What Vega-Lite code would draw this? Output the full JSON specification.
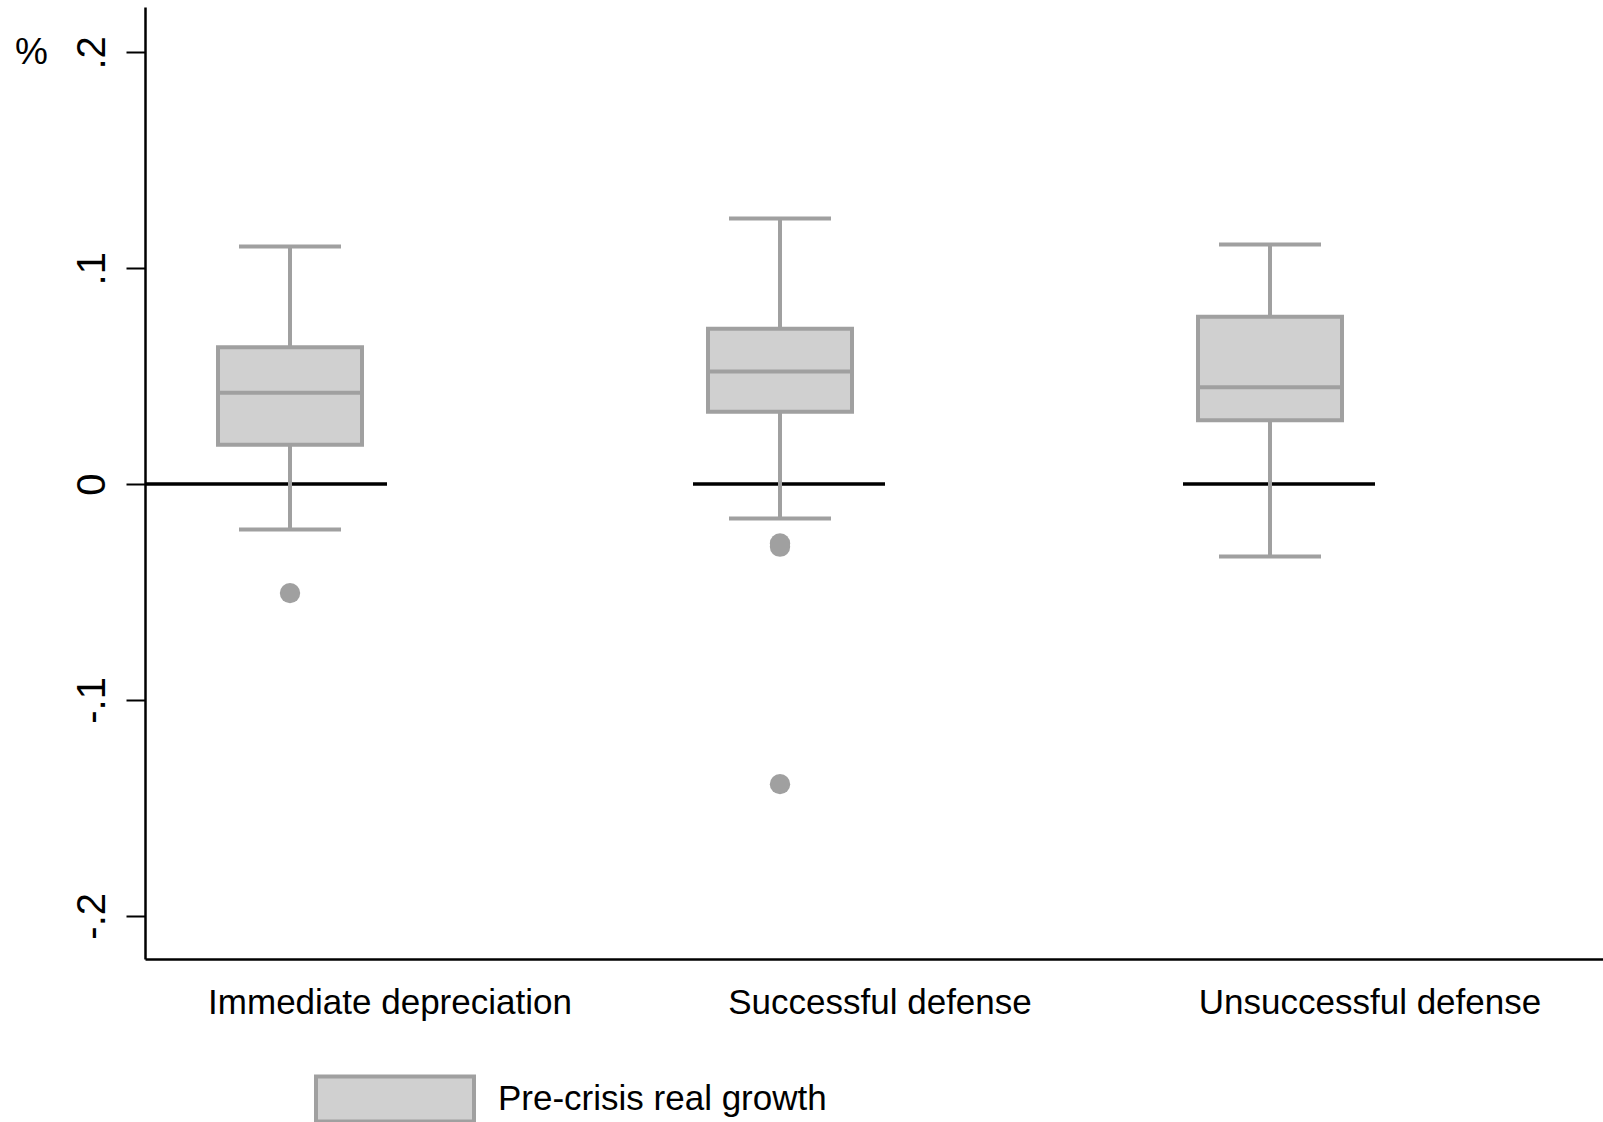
{
  "$schema": "https://vega.github.io/schema/vega-lite/v6.json",
  "width": 1470,
  "height": 952,
  "autosize": {"type": "none"},
  "padding": {"left": 145, "top": 7, "right": 0, "bottom": 163},
  "background": "white",
  "config": {"view": {"stroke": null}, "font": "Liberation Sans"},
  "datasets": {
    "stats": [
      {"cat": "Immediate depreciation", "lower": -0.021, "q1": 0.0182, "median": 0.0423, "q3": 0.0634, "upper": 0.110},
      {"cat": "Successful defense", "lower": -0.016, "q1": 0.0335, "median": 0.0522, "q3": 0.072, "upper": 0.123},
      {"cat": "Unsuccessful defense", "lower": -0.0336, "q1": 0.0296, "median": 0.0448, "q3": 0.0775, "upper": 0.111}
    ],
    "outliers": [
      {"cat": "Immediate depreciation", "value": -0.0505},
      {"cat": "Successful defense", "value": -0.0275},
      {"cat": "Successful defense", "value": -0.029},
      {"cat": "Successful defense", "value": -0.139}
    ]
  },
  "encoding": {
    "x": {
      "field": "cat", "type": "nominal", "sort": null,
      "scale": {"domain": ["Immediate depreciation", "Successful defense", "Unsuccessful defense"], "paddingInner": 0, "paddingOuter": 0},
      "axis": {"title": null, "labelAngle": 0, "ticks": false, "domainColor": "black", "domainWidth": 2.5, "labelFontSize": 35, "labelColor": "black", "labelPadding": 26, "labelLimit": 0, "labelFont": "Liberation Sans"}
    }
  },
  "layer": [
    {
      "data": {"name": "stats"},
      "mark": {"type": "tick", "color": "black", "thickness": 3.5, "opacity": 1, "xOffset": {"expr": "datum.cat === 'Immediate depreciation' ? -124 : -91"}},
      "encoding": {
        "y": {"datum": 0, "type": "quantitative",
          "scale": {"domain": [-0.22, 0.221], "nice": false, "zero": false},
          "axis": {"values": [-0.2, -0.1, 0, 0.1, 0.2], "labelExpr": "datum.value == 0 ? '0' : (datum.value < 0 ? '-' : '') + replace(format(abs(datum.value), '.1f'), '0.', '.')", "labelAngle": -90, "tickSize": 19, "tickWidth": 2, "tickColor": "black", "domainColor": "black", "domainWidth": 2.5, "labelFontSize": 40, "labelColor": "black", "labelPadding": 14, "labelFont": "Liberation Sans", "grid": false, "title": "%", "titleAngle": 0, "titleX": -114, "titleY": 45, "titleFontSize": 37, "titleFontWeight": "normal", "titleFont": "Liberation Sans", "titleColor": "black", "titleAlign": "center", "titleBaseline": "middle"}},
        "size": {"condition": {"test": "datum.cat === 'Immediate depreciation'", "value": 242}, "value": 192}
      }
    },
    {
      "data": {"name": "stats"},
      "mark": {"type": "rule", "color": "#a0a0a0", "strokeWidth": 4, "xOffset": -100},
      "encoding": {"y": {"field": "lower", "type": "quantitative"}, "y2": {"field": "upper"}}
    },
    {
      "data": {"name": "stats"},
      "mark": {"type": "tick", "color": "#a0a0a0", "thickness": 4, "size": 102, "opacity": 1, "xOffset": -100},
      "encoding": {"y": {"field": "lower", "type": "quantitative"}}
    },
    {
      "data": {"name": "stats"},
      "mark": {"type": "tick", "color": "#a0a0a0", "thickness": 4, "size": 102, "opacity": 1, "xOffset": -100},
      "encoding": {"y": {"field": "upper", "type": "quantitative"}}
    },
    {
      "data": {"name": "stats"},
      "mark": {"type": "bar", "width": 144, "stroke": "#a0a0a0", "strokeWidth": 4, "xOffset": -100},
      "encoding": {
        "y": {"field": "q1", "type": "quantitative"},
        "y2": {"field": "q3"},
        "color": {"datum": "Pre-crisis real growth", "scale": {"range": ["#d0d0d0"]},
          "legend": {"title": null, "orient": "none", "legendX": 169, "legendY": 1011, "padding": 0, "symbolType": "M-1,-0.285H1V0.285H-1Z", "symbolSize": 24964, "symbolStrokeColor": "#a0a0a0", "symbolStrokeWidth": 4, "symbolOpacity": 1, "labelFontSize": 35, "labelFont": "Liberation Sans", "labelColor": "black", "labelOffset": 22, "labelLimit": 0}}
      }
    },
    {
      "data": {"name": "stats"},
      "mark": {"type": "tick", "color": "#a0a0a0", "thickness": 4, "size": 148, "opacity": 1, "xOffset": -100},
      "encoding": {"y": {"field": "median", "type": "quantitative"}}
    },
    {
      "data": {"name": "outliers"},
      "mark": {"type": "point", "filled": true, "color": "#a0a0a0", "opacity": 1, "size": 415, "xOffset": -100},
      "encoding": {"y": {"field": "value", "type": "quantitative"}}
    }
  ]
}
